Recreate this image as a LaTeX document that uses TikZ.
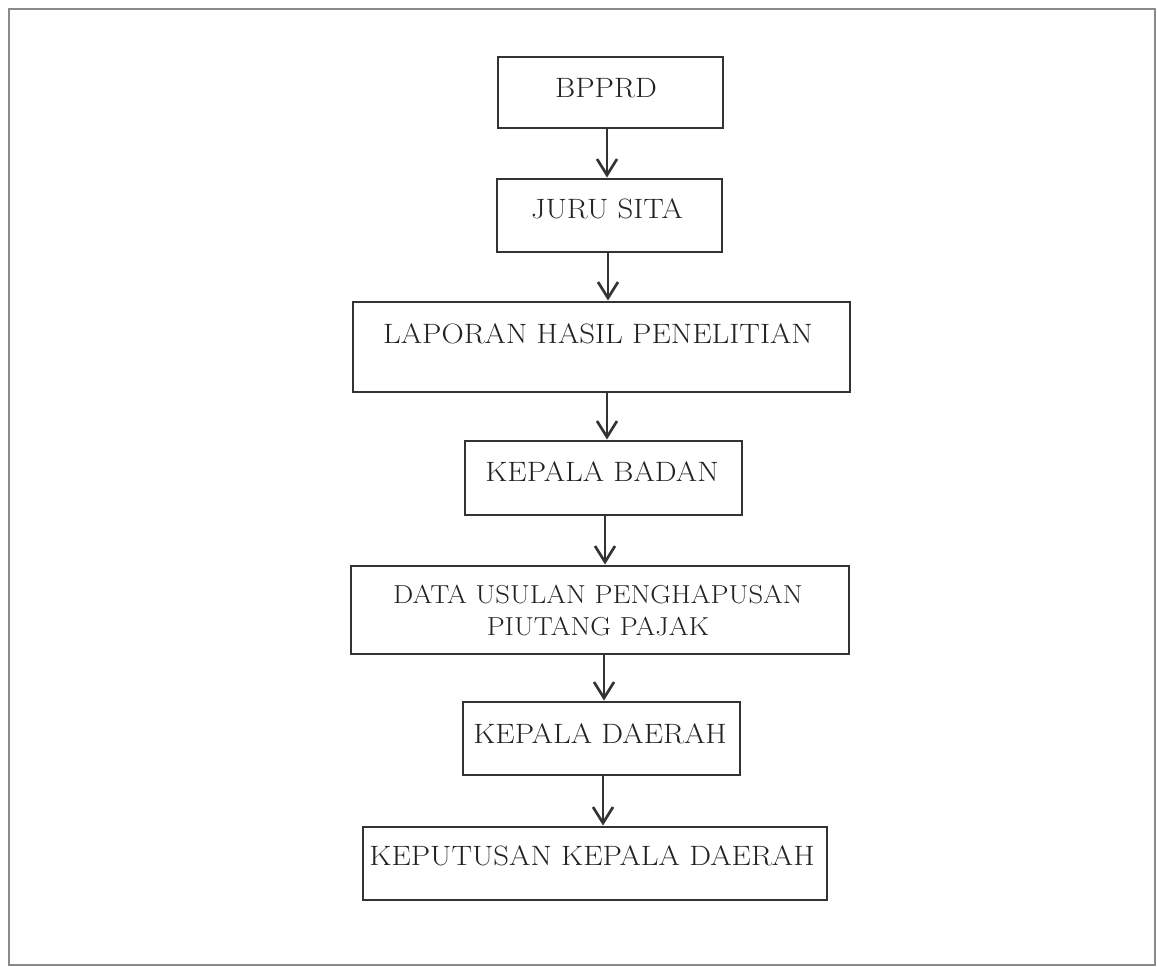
\documentclass[tikz,border=0pt]{standalone}
\usepackage{fontspec}
\setmainfont{Latin Modern Roman}[FakeStretch=1.1]
\usetikzlibrary{arrows.meta}
\definecolor{ink}{HTML}{333333}
\definecolor{framegray}{HTML}{8A8A8A}
\definecolor{txt}{HTML}{222222}
\begin{document}
\begin{tikzpicture}[x=0.75pt,y=-0.75pt,
  box/.style={draw=ink,line width=2.2pt,inner sep=0pt},
  lbl/.style={inner sep=0pt,text=txt,font=\fontsize{21}{24}\selectfont,align=center},
  lblsmall/.style={inner sep=0pt,text=txt,font=\fontsize{19.5}{24}\selectfont,align=center},
  arr/.style={draw=ink,line width=2pt,-{Straight Barb[length=12pt,width=15pt]}}]
\useasboundingbox (0,0) rectangle (1157,967);
\draw[framegray,line width=1.5pt] (9,9) rectangle (1155,965);
% boxes
\node[box,minimum width=168.75pt,minimum height=53.25pt] (b1) at (610.5,92.5) {};
\node[box,minimum width=168.75pt,minimum height=54.75pt] (b2) at (609.5,215.5) {};
\node[box,minimum width=372.75pt,minimum height=67.5pt] (b3) at (601.5,347) {};
\node[box,minimum width=207.75pt,minimum height=55.5pt] (b4) at (603.5,478) {};
\node[box,minimum width=373.5pt,minimum height=66pt] (b5) at (600,610) {};
\node[box,minimum width=207.75pt,minimum height=54.75pt] (b6) at (601.5,738.5) {};
\node[box,minimum width=348pt,minimum height=54.75pt] (b7) at (595,863.5) {};
% texts
\node[lbl] (t1) at (606,88) {BPPRD};
\node[lbl] (t2) at (607,209) {JURU SITA};
\node[lbl] (t3) at (598,334) {LAPORAN HASIL PENELITIAN};
\node[lbl] (t4) at (602,472) {KEPALA BADAN};
\node[lblsmall] (t5) at (598,611) {DATA USULAN PENGHAPUSAN\\PIUTANG PAJAK};
\node[lbl] (t6) at (600,734) {KEPALA DAERAH};
\node[lbl] (t7) at (592,856) {KEPUTUSAN KEPALA DAERAH};
% arrows
\draw[arr] (b1.south -| 607,0) -- (b2.north -| 607,0);
\draw[arr] (b2.south -| 608,0) -- (b3.north -| 608,0);
\draw[arr] (b3.south -| 607,0) -- (b4.north -| 607,0);
\draw[arr] (b4.south -| 605,0) -- (b5.north -| 605,0);
\draw[arr] (b5.south -| 604,0) -- (b6.north -| 604,0);
\draw[arr] (b6.south -| 603,0) -- (b7.north -| 603,0);
\end{tikzpicture}
\end{document}
